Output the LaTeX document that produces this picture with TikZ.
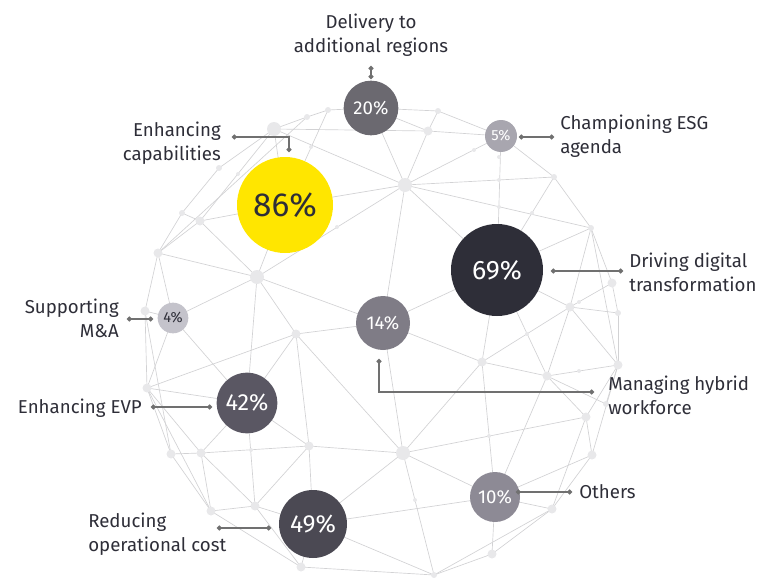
\documentclass[tikz,border=0pt]{standalone}
\usepackage{fontspec}
\setmainfont{Fira Sans}
\usetikzlibrary{arrows.meta}
\definecolor{eydark}{HTML}{2E2E38}
\definecolor{meshline}{HTML}{D2D2D4}
\definecolor{meshdot}{HTML}{E8E8EA}
\definecolor{leadgrey}{HTML}{707070}
\definecolor{col86}{HTML}{FFE600}
\definecolor{col69}{HTML}{2E2E38}
\definecolor{col49}{HTML}{4B4953}
\definecolor{col42}{HTML}{5A5763}
\definecolor{col20}{HTML}{6B6970}
\definecolor{col14}{HTML}{7F7C86}
\definecolor{col10}{HTML}{8D8A95}
\definecolor{col5}{HTML}{A8A6AF}
\definecolor{col4}{HTML}{C4C3CB}

\begin{document}
\begin{tikzpicture}[x=0.75pt, y=-0.75pt,
    mesh/.style={draw=meshline, line width=0.5pt},
    dotL/.style={circle, fill=meshdot, inner sep=0pt, minimum size=10.5pt},
    dotM/.style={circle, fill=meshdot, inner sep=0pt, minimum size=6.75pt},
    dotS/.style={circle, fill=meshdot, inner sep=0pt, minimum size=4.5pt},
    dotT/.style={circle, fill=meshdot, inner sep=0pt, minimum size=3pt},
    pct/.style={circle, inner sep=0pt, text=white},
    leader/.style={draw=leadgrey, line width=1.1pt, {Circle[length=3.6pt]}-{Circle[length=3.6pt]}},
    lbl/.style={text=eydark, inner sep=0pt, font=\fontsize{14}{18}\selectfont}]
    \useasboundingbox (0,0) rectangle (768,578);

    % 網の頂点
    \coordinate (m1) at (274,129);  \coordinate (m2) at (307,117);
    \coordinate (m3) at (328,110);  \coordinate (m4) at (438,111);
    \coordinate (m5) at (428,131);  \coordinate (m6) at (405,185);
    \coordinate (m7) at (554,177);  \coordinate (m8) at (591,228);
    \coordinate (m9) at (612,283);  \coordinate (m10) at (618,313);
    \coordinate (m11) at (570,307); \coordinate (m12) at (618,365);
    \coordinate (m13) at (547,376); \coordinate (m14) at (482,362);
    \coordinate (m15) at (586,417); \coordinate (m16) at (606,404);
    \coordinate (m17) at (592,455); \coordinate (m18) at (552,509);
    \coordinate (m19) at (492,554); \coordinate (m20) at (434,575);
    \coordinate (m21) at (403,453); \coordinate (m22) at (309,446);
    \coordinate (m23) at (301,567); \coordinate (m24) at (255,506);
    \coordinate (m25) at (211,511); \coordinate (m26) at (201,453);
    \coordinate (m27) at (171,454); \coordinate (m28) at (147,388);
    \coordinate (m29) at (145,311); \coordinate (m30) at (158,253);
    \coordinate (m31) at (200,221); \coordinate (m32) at (182,213);
    \coordinate (m33) at (219,168); \coordinate (m34) at (257,277);
    \coordinate (m35) at (296,334);
    \coordinate (p20) at (371,108); \coordinate (p5) at (501,136);
    \coordinate (p86) at (285,205); \coordinate (p69) at (497,270);
    \coordinate (p14) at (383,323); \coordinate (p4) at (173,318);
    \coordinate (p42) at (247,403); \coordinate (p49) at (313,524);
    \coordinate (p10) at (495,497);

    % 網の線を引く
    \foreach \a/\b in {m1/m2, m2/m3, m3/p20, p20/m4, m4/p5, m5/p5, p20/m5, m1/m5, m4/m5,
        m1/m6, m3/p86, p20/m6, m5/m6, p5/m6, m6/m7, m6/m8, m6/p69, m6/p14, m6/p86, m6/m34,
        m1/m33, m1/m31, m2/m30, m1/p86, m33/m32, m32/m30, m32/m31, m31/m30, m31/p86,
        m31/m34, m30/m34, m30/m29, m30/p4, m34/p86, m34/p4, m34/p14, m34/m35, m34/p42,
        p5/m7, p5/p69, m7/m8, m7/p69, m8/p69, m8/m9, m8/m11, m8/m12, m9/m11, m9/m10,
        m10/m11, m10/m12, m11/p69, m11/m12, m11/m13, m11/m14, p69/m14, p69/m13, p69/p14,
        m12/m13, m12/m15, m12/m17, m13/m14, m13/m16, m13/p10, m13/m15, m14/p14, m14/m21,
        m14/p10, m15/m21, m15/m17, m15/m18, m16/m12, m17/p10, m17/m18, m18/p10, m18/m19,
        m18/m20, m19/p10, m19/m20, m20/m21, m20/p49, m20/m23, m21/p10, m21/p14, m21/m22,
        m21/p49, m21/m35, p14/m35, m35/p42, m35/m22, m35/m28, p4/m29, p4/p42, p4/m28,
        m29/m28, m29/m27, m28/p42, m28/m27, m28/m25, m28/m26, p42/m26, p42/m24, p42/m22,
        m26/m27, m26/m22, m26/m24, m26/m25, m27/m25, m22/m24, m22/p49, m24/m25, m24/p49,
        m24/m23, m25/m23, m23/p49, p49/p10}
        \draw[mesh] (\a) -- (\b);

    % 網の点
    \foreach \v in {m1, m6, m21, m34}
        \node[dotL] (d\v) at (\v) {};
    \foreach \v in {m5, m9, m11, m12, m13, m14, m15, m17, m18, m19, m22, m23, m24, m25,
        m26, m27, m28, m29, m30, m31, m35}
        \node[dotM] (d\v) at (\v) {};
    \foreach \v in {m2, m3, m4, m7, m8, m10, m16, m20, m32, m33}
        \node[dotS] (d\v) at (\v) {};
    \foreach \x/\y [count=\i] in {337/227, 499/157, 499/180, 499/207, 474/150, 579/302,
        527/334, 489/436, 415/500, 251/450, 238/174, 311/147, 579/371, 532/213}
        \node[dotT] (t\i) at (\x,\y) {};

    % 円を描く
    \node[pct, fill=col86, text=eydark, minimum size=72pt, font=\fontsize{25}{25}\selectfont] (c86) at (p86) {86\%};
    \node[pct, fill=col69, minimum size=69pt, font=\fontsize{20}{20}\selectfont] (c69) at (p69) {69\%};
    \node[pct, fill=col49, minimum size=51pt, font=\fontsize{18.5}{19}\selectfont] (c49) at (p49) {49\%};
    \node[pct, fill=col42, minimum size=45.5pt, font=\fontsize{17.5}{18}\selectfont] (c42) at (p42) {42\%};
    \node[pct, fill=col20, minimum size=41pt, font=\fontsize{14}{14}\selectfont] (c20) at (p20) {20\%};
    \node[pct, fill=col14, minimum size=40.5pt, font=\fontsize{14}{14}\selectfont] (c14) at (p14) {14\%};
    \node[pct, fill=col10, minimum size=37.5pt, font=\fontsize{14}{14}\selectfont] (c10) at (p10) {10\%};
    \node[pct, fill=col5, minimum size=24pt, font=\fontsize{11}{11}\selectfont] (c5) at (p5) {5\%};
    \node[pct, fill=col4, text=eydark, minimum size=23pt, font=\fontsize{11}{11}\selectfont] (c4) at (p4) {4\%};

    % 引き出し線
    \coordinate (a20) at (371,66);  \coordinate (b20) at (371,79);
    \coordinate (a86) at (232,137); \coordinate (b86) at (289,152);
    \coordinate (a5) at (554,137);  \coordinate (b5) at (519,137);
    \coordinate (a69) at (623,271); \coordinate (b69) at (551,271);
    \coordinate (a4) at (127,319);  \coordinate (b4) at (153,319);
    \coordinate (a14) at (594,392); \coordinate (b14) at (379,359);
    \coordinate (a42) at (151,407); \coordinate (b42) at (212,407);
    \coordinate (a49) at (217,528); \coordinate (b49) at (271,528);
    \coordinate (a10) at (572,492); \coordinate (b10) at (516,492);
    \draw[leader] (a20) -- (b20);
    \draw[leader] (a86) -| (b86);
    \draw[leader] (a5) -- (b5);
    \draw[leader] (a69) -- (b69);
    \draw[leader] (a4) -- (b4);
    \draw[leader] (a14) -| (b14);
    \draw[leader] (a42) -- (b42);
    \draw[leader] (a49) -- (b49);
    \draw[leader] (a10) -- (b10);

    % ラベルを書く
    \node[lbl, align=center] (l20) at (371,35) {Delivery to\\additional regions};
    \node[lbl, anchor=east, align=right] (l86) at (221,143) {Enhancing\\capabilities};
    \node[lbl, anchor=west, align=left] (l5) at (560,136) {Championing ESG\\agenda};
    \node[lbl, anchor=west, align=left] (l69) at (629,272) {Driving digital\\transformation};
    \node[lbl, anchor=east, align=right] (l4) at (119,318) {Supporting\\M\&A};
    \node[lbl, anchor=east] (l42) at (142,408) {Enhancing EVP};
    \node[lbl, anchor=west, align=left] (l14) at (608,395) {Managing hybrid\\workforce};
    \node[lbl, anchor=west, align=left] (l49) at (88,534) {Reducing\\operational cost};
    \node[lbl, anchor=west] (l10) at (579,492) {Others};
\end{tikzpicture}
\end{document}
